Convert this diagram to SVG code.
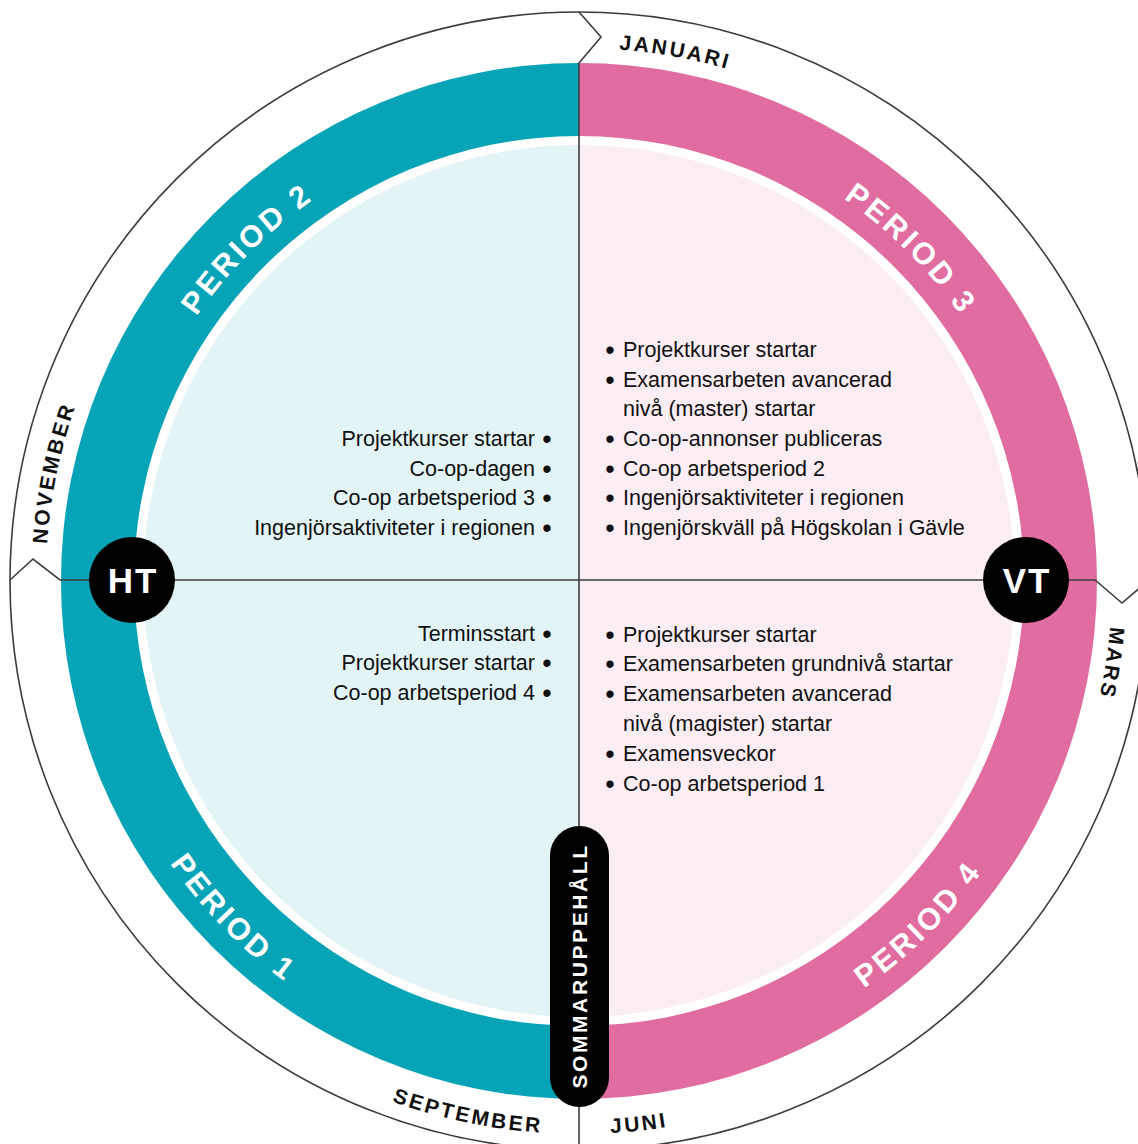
<svg xmlns="http://www.w3.org/2000/svg" xmlns:xlink="http://www.w3.org/1999/xlink" width="1138" height="1144" viewBox="0 0 1138 1144">
  <style>
    .body { font-family: "Liberation Sans", Arial, sans-serif; font-size: 21.5px; fill: #111; }
    .end { text-anchor: end; }
    .bul { font-family: "Liberation Sans", Arial, sans-serif; font-size: 27px; fill: #111; text-anchor: middle; }
    .month { font-family: "Liberation Sans", Arial, sans-serif; font-size: 21px; font-weight: bold; letter-spacing: 2.6px; fill: #111; text-anchor: middle; }
    .period { font-family: "Liberation Sans", Arial, sans-serif; font-size: 30.5px; font-weight: bold; letter-spacing: 3.2px; fill: #fff; text-anchor: middle; }
    .badge { font-family: "Liberation Sans", Arial, sans-serif; font-size: 35px; font-weight: bold; letter-spacing: 2px; fill: #fff; text-anchor: middle; }
    .line { fill: none; stroke: #3c3c3c; stroke-width: 1.6; stroke-linejoin: miter; }
  </style>
  <defs>
    <path id="cw533" d="M579,48 A533,533 0 1 1 579,1114 A533,533 0 1 1 579,48"/>
    <path id="ccw553" d="M579,28 A553,553 0 1 0 579,1134 A553,553 0 1 0 579,28"/>
    <path id="cw465" d="M579,116 A465,465 0 1 1 579,1046 A465,465 0 1 1 579,116"/>
    <path id="ccw497" d="M579,84 A497,497 0 1 0 579,1078 A497,497 0 1 0 579,84"/>
  </defs>
  <rect width="1138" height="1144" fill="#fff"/>

  <g id="outer-ring">
    <circle cx="579" cy="581" r="569" class="line"/>
  </g>

  <g id="ring-ht">
    <path d="M579,63 A518,518 0 0 0 579,1099 L579,1026 A445,445 0 0 1 579,136 Z" fill="#07a3b7"/>
    <path d="M579,145 A436,436 0 0 0 579,1017 Z" fill="#e3f4f7"/>
  </g>
  <g id="ring-vt">
    <path d="M579,63 A518,518 0 0 1 579,1099 L579,1026 A445,445 0 0 0 579,136 Z" fill="#e06ca0"/>
    <path d="M579,145 A436,436 0 0 1 579,1017 Z" fill="#fbedf4"/>
  </g>

  <g id="connectors">
    <path class="line" d="M579,12 L601,37 L579,63 L579,1144"/>
    <path class="line" d="M10,580 L33,559 L60,580 L1095,580 L1122,603 L1149,580"/>
  </g>

  <g id="months">
    <text class="month"><textPath href="#cw533" xlink:href="#cw533" startOffset="2.86%">JANUARI</textPath></text>
    <text class="month"><textPath href="#cw533" xlink:href="#cw533" startOffset="27.44%">MARS</textPath></text>
    <text class="month"><textPath href="#cw533" xlink:href="#cw533" startOffset="78.22%">NOVEMBER</textPath></text>
    <text class="month"><textPath href="#ccw553" xlink:href="#ccw553" startOffset="46.72%">SEPTEMBER</textPath></text>
    <text class="month"><textPath href="#ccw553" xlink:href="#ccw553" startOffset="51.75%">JUNI</textPath></text>
  </g>

  <g id="periods">
    <text class="period"><textPath href="#cw465" xlink:href="#cw465" startOffset="87.5%">PERIOD 2</textPath></text>
    <text class="period"><textPath href="#cw465" xlink:href="#cw465" startOffset="12.5%">PERIOD 3</textPath></text>
    <text class="period"><textPath href="#ccw497" xlink:href="#ccw497" startOffset="37.3%">PERIOD 1</textPath></text>
    <text class="period"><textPath href="#ccw497" xlink:href="#ccw497" startOffset="62.4%">PERIOD 4</textPath></text>
  </g>

  <g id="text-period2">
    <text class="body end" x="535" y="446">Projektkurser startar</text>
    <text class="body end" x="535" y="475.5">Co-op-dagen</text>
    <text class="body end" x="535" y="505">Co-op arbetsperiod 3</text>
    <text class="body end" x="535" y="534.5">Ingenjörsaktiviteter i regionen</text>
    <text class="bul" x="547" y="448">•</text>
    <text class="bul" x="547" y="477.5">•</text>
    <text class="bul" x="547" y="507">•</text>
    <text class="bul" x="547" y="536.5">•</text>
  </g>

  <g id="text-period3">
    <text class="body" x="623" y="357">Projektkurser startar</text>
    <text class="body" x="623" y="386.5">Examensarbeten avancerad</text>
    <text class="body" x="623" y="416">nivå (master) startar</text>
    <text class="body" x="623" y="446">Co-op-annonser publiceras</text>
    <text class="body" x="623" y="475.5">Co-op arbetsperiod 2</text>
    <text class="body" x="623" y="505">Ingenjörsaktiviteter i regionen</text>
    <text class="body" x="623" y="534.5">Ingenjörskväll på Högskolan i Gävle</text>
    <text class="bul" x="610" y="359">•</text>
    <text class="bul" x="610" y="388.5">•</text>
    <text class="bul" x="610" y="448">•</text>
    <text class="bul" x="610" y="477.5">•</text>
    <text class="bul" x="610" y="507">•</text>
    <text class="bul" x="610" y="536.5">•</text>
  </g>

  <g id="text-period1">
    <text class="body end" x="535" y="640.5">Terminsstart</text>
    <text class="body end" x="535" y="670">Projektkurser startar</text>
    <text class="body end" x="535" y="699.5">Co-op arbetsperiod 4</text>
    <text class="bul" x="547" y="642.5">•</text>
    <text class="bul" x="547" y="672">•</text>
    <text class="bul" x="547" y="701.5">•</text>
  </g>

  <g id="text-period4">
    <text class="body" x="623" y="641.5">Projektkurser startar</text>
    <text class="body" x="623" y="671">Examensarbeten grundnivå startar</text>
    <text class="body" x="623" y="701">Examensarbeten avancerad</text>
    <text class="body" x="623" y="731">nivå (magister) startar</text>
    <text class="body" x="623" y="761">Examensveckor</text>
    <text class="body" x="623" y="790.5">Co-op arbetsperiod 1</text>
    <text class="bul" x="610" y="643.5">•</text>
    <text class="bul" x="610" y="673">•</text>
    <text class="bul" x="610" y="703">•</text>
    <text class="bul" x="610" y="763">•</text>
    <text class="bul" x="610" y="792.5">•</text>
  </g>

  <g id="ht">
    <circle cx="132" cy="580" r="43" fill="#000"/>
    <text class="badge" x="133" y="593">HT</text>
  </g>
  <g id="vt">
    <circle cx="1026" cy="580" r="43" fill="#000"/>
    <text class="badge" x="1027" y="593">VT</text>
  </g>
  <g id="sommaruppehall">
    <rect x="550" y="826" width="59" height="281" rx="29.5" fill="#000"/>
    <text transform="translate(579.5,966) rotate(-90)" x="0" y="7.5" font-family="Liberation Sans, Arial, sans-serif" font-size="21" font-weight="bold" letter-spacing="2.6" fill="#fff" text-anchor="middle">SOMMARUPPEHÅLL</text>
  </g>
</svg>
